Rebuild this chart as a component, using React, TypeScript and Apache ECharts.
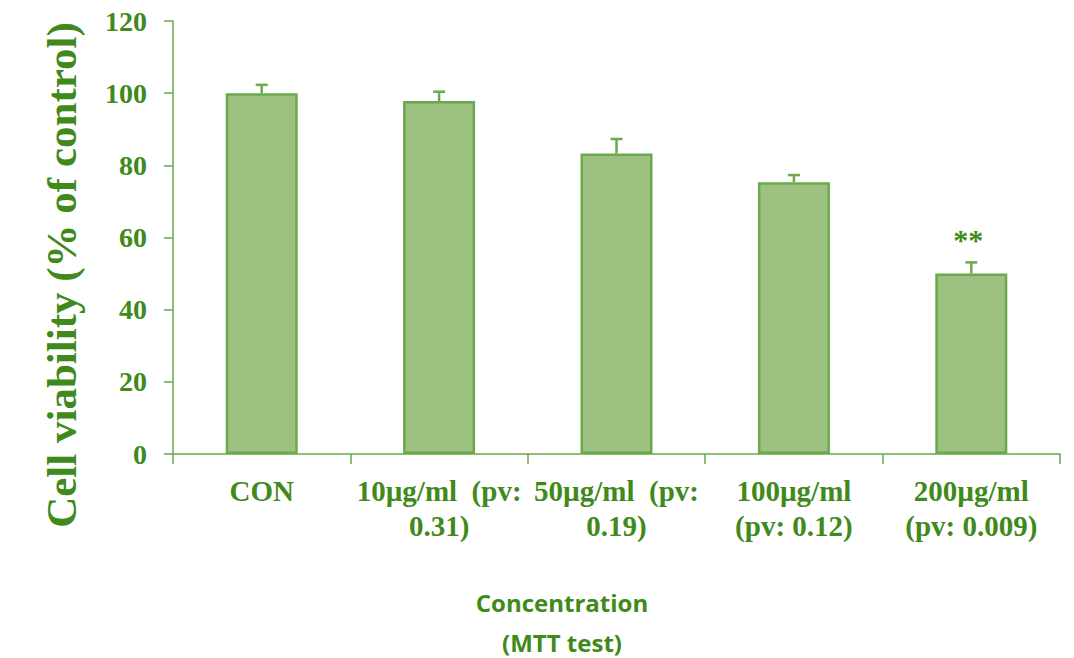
import React, { useEffect, useRef } from "react";
import * as echarts from "echarts";

const categories = [
  "CON",
  "10µg/ml  (pv:\n0.31)",
  "50µg/ml  (pv:\n0.19)",
  "100µg/ml\n(pv: 0.12)",
  "200µg/ml\n(pv: 0.009)",
];
const viability = [100, 97.8, 83.3, 75.3, 50.0];
const errors = [2.3, 2.6, 4.0, 2.0, 3.1];
const significance = ["", "", "", "", "**"];
const yTicks = { min: 0, max: 120, interval: 20 };

const TEXT = "#3f8a1a";
const AXIS = "#6aa84c";
const SERIF = "'Liberation Serif', 'Times New Roman', serif";

export default function App() {
  const ref = useRef<HTMLDivElement>(null);
  useEffect(() => {
    if (!ref.current) return;
    const chart = echarts.init(ref.current, undefined, { renderer: "svg" });
    const errData = viability.map((v, i) => [i, v, v + errors[i]]);
    chart.setOption({
      animation: false,
      backgroundColor: "#ffffff",
      grid: { left: 173, right: 14, top: 21, bottom: 204 },
      xAxis: {
        type: "category",
        data: categories,
        boundaryGap: true,
        axisLine: { lineStyle: { color: AXIS, width: 1.5 } },
        axisTick: { show: true, length: 10, interval: 0, lineStyle: { color: AXIS, width: 1.5 } },
        axisLabel: {
          interval: 0,
          margin: 19,
          color: TEXT,
          fontFamily: SERIF,
          fontWeight: "bold",
          fontSize: 29,
          lineHeight: 35,
          align: "center",
        },
      },
      yAxis: {
        type: "value",
        min: yTicks.min,
        max: yTicks.max,
        interval: yTicks.interval,
        splitLine: { show: false },
        axisLine: { show: true, lineStyle: { color: AXIS, width: 1.5 } },
        axisTick: { show: true, length: 9, lineStyle: { color: AXIS, width: 1.5 } },
        axisLabel: {
          margin: 26,
          color: TEXT,
          fontFamily: SERIF,
          fontWeight: "bold",
          fontSize: 28,
        },
      },
      series: [
        {
          type: "bar",
          data: viability,
          barWidth: 72,
          itemStyle: { color: "#9cc180", borderColor: "#6aaa4c", borderWidth: 2.5 },
          z: 2,
        },
        {
          type: "custom",
          data: errData,
          z: 3,
          renderItem: (params: any, api: any) => {
            const i = api.value(0);
            const base = api.coord([i, api.value(1)]);
            const top = api.coord([i, api.value(2)]);
            const mark = significance[params.dataIndex];
            const style = { stroke: "#6aaa4c", lineWidth: 2.5 };
            const children: any[] = [
              { type: "line", shape: { x1: base[0], y1: base[1], x2: top[0], y2: top[1] }, style },
              { type: "line", shape: { x1: top[0] - 6, y1: top[1], x2: top[0] + 6, y2: top[1] }, style },
            ];
            if (mark) {
              children.push({
                type: "text",
                x: top[0] - 3,
                y: top[1] - 23,
                style: {
                  text: mark,
                  fill: TEXT,
                  font: `bold 30px ${SERIF}`,
                  align: "center",
                  verticalAlign: "middle",
                },
              });
            }
            return { type: "group", children };
          },
        },
      ],
      graphic: [
        {
          type: "text",
          x: 61,
          y: 275,
          rotation: Math.PI / 2,
          style: {
            text: "Cell viability (% of control)",
            fill: TEXT,
            font: `bold 43px ${SERIF}`,
            align: "center",
            verticalAlign: "middle",
          },
        },
        {
          type: "text",
          x: 562,
          y: 602,
          style: {
            text: "Concentration",
            fill: TEXT,
            font: "bold 24px 'Open Sans', sans-serif",
            align: "center",
            verticalAlign: "middle",
          },
        },
        {
          type: "text",
          x: 562,
          y: 642,
          style: {
            text: "(MTT test)",
            fill: TEXT,
            font: "bold 24px 'Open Sans', sans-serif",
            align: "center",
            verticalAlign: "middle",
          },
        },
      ],
    });
    return () => chart.dispose();
  }, []);
  return (
    <div
      ref={ref}
      style={{ position: "fixed", left: 0, top: 0, width: 1074, height: 658 }}
    />
  );
}
